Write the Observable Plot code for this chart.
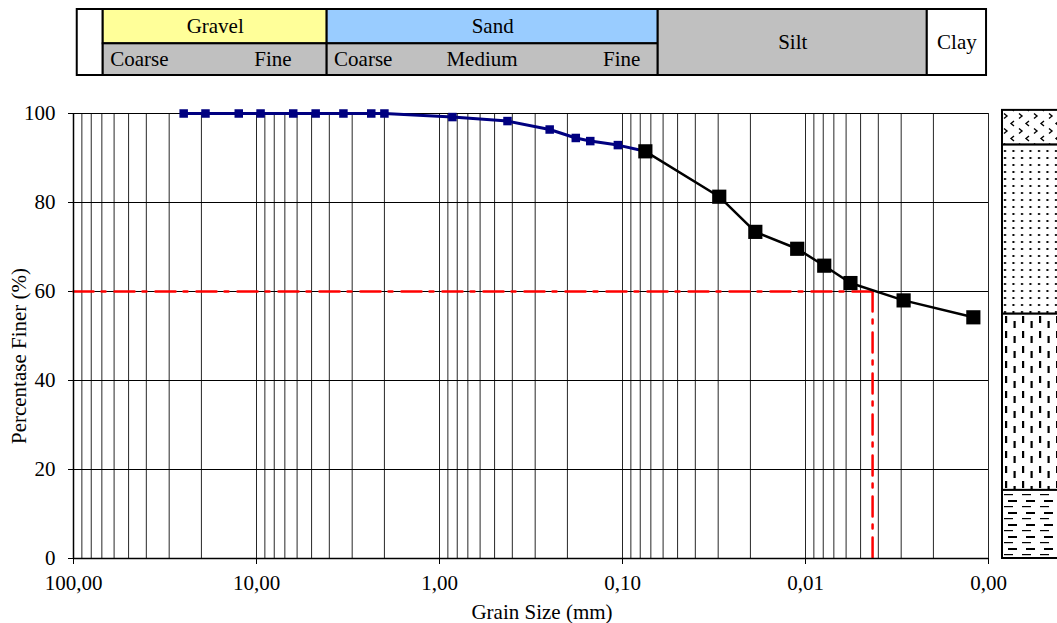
<!DOCTYPE html>
<html><head><meta charset="utf-8">
<script src="https://cdn.jsdelivr.net/npm/d3@7"></script>
<script src="https://cdn.jsdelivr.net/npm/@observablehq/plot@0.6"></script>
<style>
body{margin:0;background:#fff;overflow:hidden}
#wrap{position:relative;width:1057px;height:623px;overflow:hidden}
#wrap svg{position:absolute;top:0;overflow:visible}
</style></head><body><div id="wrap"></div>
<script>
// ---- data ----
const sieveSize    = [25, 19, 12.5, 9.5, 6.3, 4.75, 3.35, 2.36, 2.0, 0.85, 0.425, 0.25, 0.18, 0.15, 0.106, 0.075];
const sievePassing = [100, 100, 100, 100, 100, 100, 100, 100, 100, 99.2, 98.3, 96.4, 94.5, 93.8, 92.9, 91.5];
const hydroSize    = [0.075, 0.0296, 0.0188, 0.0111, 0.0079, 0.00568, 0.00291, 0.00121];
const hydroPassing = [91.5, 81.3, 73.4, 69.6, 65.8, 61.9, 58.0, 54.2];
const d60Size = 0.0043;
const d60Percent = 60;
const xTickValues = [100, 10, 1, 0.1, 0.01, 0.001];
const yTickValues = [0, 20, 40, 60, 80, 100];
const yGridValues = [20, 40, 60, 80, 100];
const xLabel = "Grain Size (mm)";
const yLabel = "Percentase Finer (%)";
// classification table (edges in mm)
const tableLeftEdge = 95.4;
const soilClasses = ["Gravel", "Sand", "Silt", "Clay"];
const classEdges = [68.8, 4.11, 0.0638, 0.00216, 0.001025];
const subLabels = ["Coarse", "Fine", "Coarse", "Medium", "Fine"];
const subLabelSize = [43.7, 8.13, 2.61, 0.586, 0.101];
// soil column layers (percent)
const layerNames = ["gravel", "sand", "silt", "clay"];
const layerEdges = [100.7, 92.9, 54.9, 15.3, 0];

// ---- build ----
const FONT = "Liberation Serif, Times New Roman, serif";
const W = 1057, H = 623, ML = 73, MR = W - 988;
const fmt = d => d3.format(".2f")(d).replace(".", ",");
const sieve = sieveSize.map((s, i) => ({size: s, pct: sievePassing[i]}));
const hydro = hydroSize.map((s, i) => ({size: s, pct: hydroPassing[i]}));
const gridX = d3.scaleLog().domain([0.001, 100]).ticks();
const wrap = document.getElementById("wrap");

// table
const fills = {blank: "#ffffff", Gravel: "#ffff99", Sand: "#99ccff", sub: "#c0c0c0", Silt: "#c0c0c0", Clay: "#ffffff"};
const cells = [{x1: tableLeftEdge, x2: classEdges[0], y1: 0, y2: 2, kind: "blank"}];
const classText = [];
soilClasses.forEach((c, i) => {
  const x1 = classEdges[i], x2 = classEdges[i + 1];
  const mid = Math.sqrt(x1 * x2);
  if (i < 2) {
    cells.push({x1, x2, y1: 0.96, y2: 2, kind: c});
    cells.push({x1, x2, y1: 0, y2: 0.96, kind: "sub"});
    classText.push({x: mid, y: 1.48, t: c});
  } else {
    cells.push({x1, x2, y1: 0, y2: 2, kind: c});
    classText.push({x: mid, y: 1.0, t: c});
  }
});
const subText = subLabels.map((t, i) => ({x: subLabelSize[i], y: 0.48, t}));

const table = Plot.plot({
  width: W, height: 85, marginLeft: ML, marginRight: MR, marginTop: 9, marginBottom: 10,
  style: {fontFamily: FONT, fontSize: "21px", background: "transparent", color: "#000"},
  x: {type: "log", domain: [100, 0.001], axis: null},
  y: {domain: [0, 2], axis: null},
  marks: [
    Plot.rect(cells, {x1: "x1", x2: "x2", y1: "y1", y2: "y2", fill: d => fills[d.kind], stroke: "#000", strokeWidth: 2}),
    Plot.text(classText, {x: "x", y: "y", text: "t", fill: "#000"}),
    Plot.text(subText, {x: "x", y: "y", text: "t", fill: "#000"})
  ]
});
table.style.left = "0px";
wrap.appendChild(table);

// main chart
const main = Plot.plot({
  width: W, height: H, marginLeft: ML, marginRight: MR, marginTop: 113, marginBottom: 65,
  style: {fontFamily: FONT, fontSize: "21px", background: "transparent", color: "#000"},
  x: {type: "log", domain: [100, 0.001], ticks: xTickValues, tickFormat: fmt, tickSize: 6, tickPadding: 11, label: null},
  y: {domain: [0, 100], ticks: yTickValues, tickSize: 5, tickPadding: 13, label: null},
  marks: [
    Plot.ruleX(gridX, {y1: 0, y2: 100, stroke: "#000", strokeOpacity: 0.85, strokeWidth: 1}),
    Plot.ruleY(yGridValues, {x1: 100, x2: 0.001, stroke: "#000", strokeWidth: 1}),
    Plot.line([{x: 100, y: d60Percent}, {x: d60Size, y: d60Percent}], {x: "x", y: "y", stroke: "#ff0000", strokeWidth: 2.5, strokeDasharray: "20,8,4,9"}),
    Plot.line([{x: d60Size, y: d60Percent}, {x: d60Size, y: 0}], {x: "x", y: "y", stroke: "#ff0000", strokeWidth: 2.5, strokeDasharray: "20,8,4,9"}),
    Plot.line(sieve, {x: "size", y: "pct", stroke: "#000080", strokeWidth: 3}),
    Plot.line(hydro, {x: "size", y: "pct", stroke: "#000", strokeWidth: 2.5}),
    Plot.dot(sieve, {x: "size", y: "pct", symbol: "square", r: 4.8, fill: "#000080"}),
    Plot.dot(hydro, {x: "size", y: "pct", symbol: "square", r: 8, fill: "#000"}),
    Plot.ruleX([100], {y1: 0, y2: 100, stroke: "#000", strokeWidth: 1.5}),
    Plot.ruleY([0], {x1: 100, x2: 0.001, stroke: "#000", strokeWidth: 1.5}),
    Plot.text([xLabel], {frameAnchor: "bottom", lineAnchor: "middle", textAnchor: "middle", dx: 11, dy: 54, fill: "#000"}),
    Plot.text([yLabel], {frameAnchor: "left", lineAnchor: "middle", textAnchor: "middle", rotate: -90, dx: -54, dy: 20, fill: "#000"})
  ]
});
main.style.left = "0px";
wrap.appendChild(main);

// soil column
const layers = layerNames.map((n, i) => ({name: n, y1: layerEdges[i + 1], y2: layerEdges[i]}));
const column = Plot.plot({
  width: 70, height: H, marginLeft: 1, marginRight: 0, marginTop: 113, marginBottom: 65,
  style: {background: "transparent"},
  x: {domain: [0, 1], axis: null},
  y: {domain: [0, 100], axis: null},
  marks: [
    Plot.rect(layers, {x1: 0, x2: 1, y1: "y1", y2: "y2", fill: d => `url(#pat-${d.name})`, stroke: "#000", strokeWidth: 2})
  ]
});
column.style.left = "1001px";
d3.select(column).insert("defs", ":first-child").html(`
  <pattern id="pat-gravel" patternUnits="userSpaceOnUse" width="15" height="15">
    <rect width="15" height="15" fill="#fff"/>
    <path d="M13,1 L10,3.5 L13,6" fill="none" stroke="#000" stroke-width="1.4"/>
    <path d="M3,8.5 L6,11 L3,13.5" fill="none" stroke="#000" stroke-width="1.4"/>
  </pattern>
  <pattern id="pat-sand" patternUnits="userSpaceOnUse" width="8.5" height="7">
    <rect width="8.5" height="7" fill="#fff"/>
    <rect x="3" y="3" width="2" height="2" fill="#000"/>
  </pattern>
  <pattern id="pat-silt" patternUnits="userSpaceOnUse" width="17" height="15">
    <rect width="17" height="15" fill="#fff"/>
    <rect x="4" y="1" width="2.2" height="7" fill="#000"/>
    <rect x="12.5" y="6" width="2.2" height="7" fill="#000"/>
  </pattern>
  <pattern id="pat-clay" patternUnits="userSpaceOnUse" width="18" height="12">
    <rect width="18" height="12" fill="#fff"/>
    <rect x="3" y="2" width="9" height="1.2" fill="#000"/>
    <rect x="7" y="8" width="9" height="2" fill="#000"/>
  </pattern>`);
wrap.appendChild(column);
</script></body></html>
